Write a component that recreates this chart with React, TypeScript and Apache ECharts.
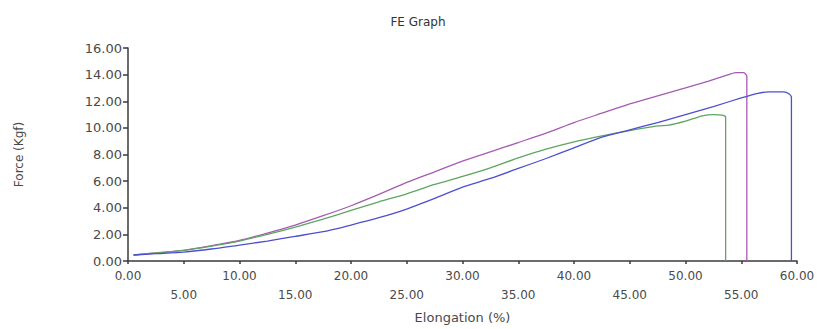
import React, { useEffect, useRef } from "react";
import * as echarts from "echarts";

const titleText = "FE Graph";
const xAxisName = "Elongation (%)";
const yAxisName = "Force (Kgf)";

const purpleElong = [0.5, 2.5, 5, 7.5, 10, 12.5, 15, 17.5, 20, 22.5, 25, 27.5, 30, 32.5, 35, 37.5, 40, 42.5, 45, 47.5, 50, 52, 53.5, 54.5, 55.2, 55.5, 55.5];
const purpleForce = [0.45, 0.6, 0.8, 1.15, 1.55, 2.1, 2.7, 3.4, 4.15, 5.0, 5.9, 6.7, 7.5, 8.2, 8.9, 9.6, 10.4, 11.1, 11.8, 12.4, 13.0, 13.5, 13.9, 14.15, 14.15, 13.9, 0];

const greenElong = [0.5, 2.5, 5, 7.5, 10, 12.5, 15, 17.5, 20, 22.5, 25, 27.5, 30, 32.5, 35, 37.5, 40, 42.5, 45, 47.5, 48.5, 50, 51.5, 52.5, 53.3, 53.6, 53.6];
const greenForce = [0.45, 0.6, 0.8, 1.12, 1.5, 2.0, 2.55, 3.15, 3.8, 4.45, 5.05, 5.75, 6.35, 7.0, 7.75, 8.4, 8.95, 9.4, 9.8, 10.15, 10.2, 10.5, 10.9, 11.0, 10.95, 10.8, 0];

const blueElong = [0.5, 2.5, 5, 7.5, 10, 12.5, 15, 17.5, 20, 22.5, 25, 27.5, 30, 32.5, 35, 37.5, 40, 42.5, 45, 47.5, 50, 52.5, 55, 56.5, 57.5, 58.8, 59.3, 59.5, 59.5];
const blueForce = [0.45, 0.55, 0.67, 0.9, 1.2, 1.5, 1.85, 2.2, 2.7, 3.25, 3.9, 4.7, 5.55, 6.2, 6.95, 7.7, 8.5, 9.3, 9.85, 10.4, 11.0, 11.6, 12.25, 12.6, 12.7, 12.7, 12.55, 12.3, 0];

const xMin = 0;
const xMax = 60;
const xStep = 5;
const yMin = 0;
const yMax = 16;
const yStep = 2;

const zip = (xs: number[], ys: number[]) => xs.map((x, i) => [x, ys[i]]);

export default function App() {
  const ref = useRef<HTMLDivElement>(null);
  useEffect(() => {
    document.body.style.margin = "0";
    if (!ref.current) return;
    const chart = echarts.init(ref.current, undefined, { renderer: "svg" });
    const font = "DejaVu Sans";
    const textColor = "#4a4a4a";
    const axisColor = "#3a3a3a";
    chart.setOption({
      animation: false,
      backgroundColor: "#ffffff",
      title: {
        text: titleText,
        left: 413,
        top: 11,
        textAlign: "center",
        textStyle: { fontFamily: font, fontSize: 12, fontWeight: "normal", color: "#333" },
      },
      grid: { left: 128, right: 25, top: 48, bottom: 66, containLabel: false },
      xAxis: {
        type: "value",
        min: xMin,
        max: xMax,
        interval: xStep,
        name: xAxisName,
        nameLocation: "middle",
        nameGap: 50,
        nameTextStyle: { fontFamily: font, fontSize: 13, color: textColor },
        axisLine: { show: true, lineStyle: { color: axisColor, width: 1.5 } },
        axisTick: { show: true, length: 3, lineStyle: { color: axisColor, width: 1.5 } },
        splitLine: { show: false },
        axisLabel: {
          fontFamily: font,
          fontSize: 12,
          color: textColor,
          margin: 5,
          lineHeight: 19,
          formatter: (v: number) => (v % 10 === 0 ? v.toFixed(2) : "\n" + v.toFixed(2)),
        },
      },
      yAxis: {
        type: "value",
        min: yMin,
        max: yMax,
        interval: yStep,
        name: yAxisName,
        nameLocation: "middle",
        nameRotate: 90,
        nameGap: 103,
        nameTextStyle: { fontFamily: font, fontSize: 12, color: textColor },
        axisLine: { show: true, lineStyle: { color: axisColor, width: 1.5 } },
        axisTick: { show: true, length: 5, lineStyle: { color: axisColor, width: 1.5 } },
        splitLine: { show: false },
        axisLabel: {
          fontFamily: font,
          fontSize: 13,
          color: textColor,
          margin: 6,
          formatter: (v: number) => v.toFixed(2),
        },
      },
      series: [
        {
          name: "Sample 1",
          type: "line",
          data: zip(purpleElong, purpleForce),
          showSymbol: false,
          smooth: 0.2,
          lineStyle: { color: "#a65bb3", width: 1.3 },
          itemStyle: { color: "#a65bb3" },
        },
        {
          name: "Sample 2",
          type: "line",
          data: zip(greenElong, greenForce),
          showSymbol: false,
          smooth: 0.2,
          lineStyle: { color: "#5fa562", width: 1.3 },
          itemStyle: { color: "#5fa562" },
        },
        {
          name: "Sample 3",
          type: "line",
          data: zip(blueElong, blueForce),
          showSymbol: false,
          smooth: 0.2,
          lineStyle: { color: "#4d4fd0", width: 1.3 },
          itemStyle: { color: "#4d4fd0" },
        },
      ],
    });
    return () => chart.dispose();
  }, []);
  return <div ref={ref} style={{ width: 822, height: 329 }} />;
}
